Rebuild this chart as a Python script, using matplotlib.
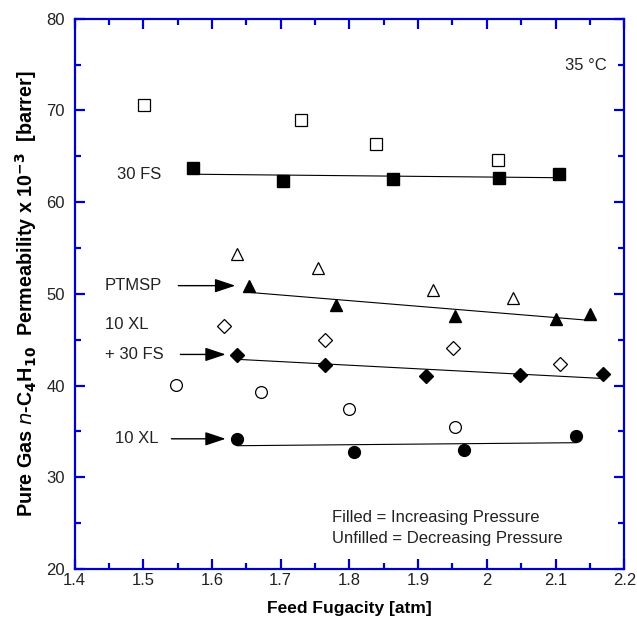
import matplotlib.pyplot as plt
import numpy as np

plt.rcParams['font.family'] = ['Liberation Sans', 'DejaVu Sans']

# 30 FS
fs_fill_x = [1.572, 1.704, 1.863, 2.018, 2.105]
fs_fill_y = [63.7, 62.3, 62.55, 62.6, 63.1]
fs_open_x = [1.501, 1.729, 1.839, 2.016]
fs_open_y = [70.6, 69.0, 66.4, 64.55]

# PTMSP
pt_fill_x = [1.654, 1.781, 1.953, 2.101, 2.150]
pt_fill_y = [50.9, 48.8, 47.6, 47.3, 47.8]
pt_open_x = [1.636, 1.755, 1.921, 2.038]
pt_open_y = [54.3, 52.8, 50.4, 49.5]

# 10 XL + 30 FS
mix_fill_x = [1.636, 1.764, 1.911, 2.048, 2.169]
mix_fill_y = [43.35, 42.25, 41.0, 41.2, 41.25]
mix_open_x = [1.618, 1.765, 1.951, 2.106]
mix_open_y = [46.55, 45.0, 44.1, 42.4]

# 10 XL
xl_fill_x = [1.637, 1.806, 1.967, 2.130]
xl_fill_y = [34.2, 32.75, 33.0, 34.5]
xl_open_x = [1.548, 1.671, 1.799, 1.954]
xl_open_y = [40.1, 39.25, 37.45, 35.45]

blue = '#0000cc'

fig = plt.figure(figsize=(6.37, 6.26), dpi=100)
ax = fig.add_axes([0.117, 0.091, 0.863, 0.879])

series = [
    (fs_fill_x, fs_fill_y, fs_open_x, fs_open_y, 's', 9, 8.5),
    (pt_fill_x, pt_fill_y, pt_open_x, pt_open_y, '^', 8.5, 8.5),
    (mix_fill_x, mix_fill_y, mix_open_x, mix_open_y, 'D', 7, 7.5),
    (xl_fill_x, xl_fill_y, xl_open_x, xl_open_y, 'o', 8.5, 8.5),
]

for fx, fy, ox, oy, m, ms_f, ms_o in series:
    fx = np.array(fx)
    p = np.polyfit(fx, fy, 1)
    xx = np.array([fx.min(), fx.max()])
    ax.plot(xx, np.polyval(p, xx), color='black', lw=0.8, zorder=1)
    ax.plot(fx, fy, m, color='black', ms=ms_f, zorder=2)
    ax.plot(ox, oy, m, mfc='white', mec='black', mew=0.9, ms=ms_o, zorder=2)

ax.set_xlim(1.4, 2.2)
ax.set_ylim(20, 80)
ax.set_xticks(np.arange(1.4, 2.21, 0.1))
ax.set_xticklabels(['1.4', '1.5', '1.6', '1.7', '1.8', '1.9', '2', '2.1', '2.2'])
ax.set_xticks(np.arange(1.45, 2.2, 0.1), minor=True)
ax.set_yticks(np.arange(20, 81, 10))
ax.set_yticks(np.arange(25, 80, 10), minor=True)

for s in ax.spines.values():
    s.set_color(blue)
    s.set_linewidth(1.6)
ax.tick_params(which='both', direction='in', top=True, right=True,
               color=blue, labelsize=12, labelcolor='#222222')
ax.tick_params(which='major', length=7, width=1.6)
ax.tick_params(which='minor', length=4, width=1.6)
ax.tick_params(axis='x', pad=3)
ax.tick_params(axis='y', pad=7)

ax.set_xlabel('Feed Fugacity [atm]', fontsize=12.5, fontweight='bold', labelpad=9)
ax.set_ylabel(r'Pure Gas $\mathbf{\it{n}}$-C$_\mathbf{4}$H$_\mathbf{10}$  Permeability x 10$^\mathbf{-3}$  [barrer]',
              fontsize=14.2, fontweight='bold', labelpad=5)

txt = dict(fontsize=12, color='#222222')
ax.text(1.462, 63.0, '30 FS', va='center', **txt)
ax.text(1.444, 50.9, 'PTMSP', va='center', **txt)
ax.text(1.444, 46.7, '10 XL', va='center', **txt)
ax.text(1.444, 43.4, '+ 30 FS', va='center', **txt)
ax.text(1.459, 34.2, '10 XL', va='center', **txt)
ax.text(2.175, 74.9, '35 °C', ha='right', va='center', **txt)
ax.text(1.774, 25.6, 'Filled = Increasing Pressure', va='center', **txt)
ax.text(1.774, 23.3, 'Unfilled = Decreasing Pressure', va='center', **txt)

arrow = dict(arrowstyle='-|>,head_length=0.9,head_width=0.3', color='black',
             lw=1.0, mutation_scale=14)
ax.annotate('', xy=(1.638, 50.9), xytext=(1.547, 50.9), arrowprops=arrow)
ax.annotate('', xy=(1.624, 43.4), xytext=(1.550, 43.4), arrowprops=arrow)
ax.annotate('', xy=(1.624, 34.2), xytext=(1.537, 34.2), arrowprops=arrow)

fig.savefig('out.png', dpi=100)
